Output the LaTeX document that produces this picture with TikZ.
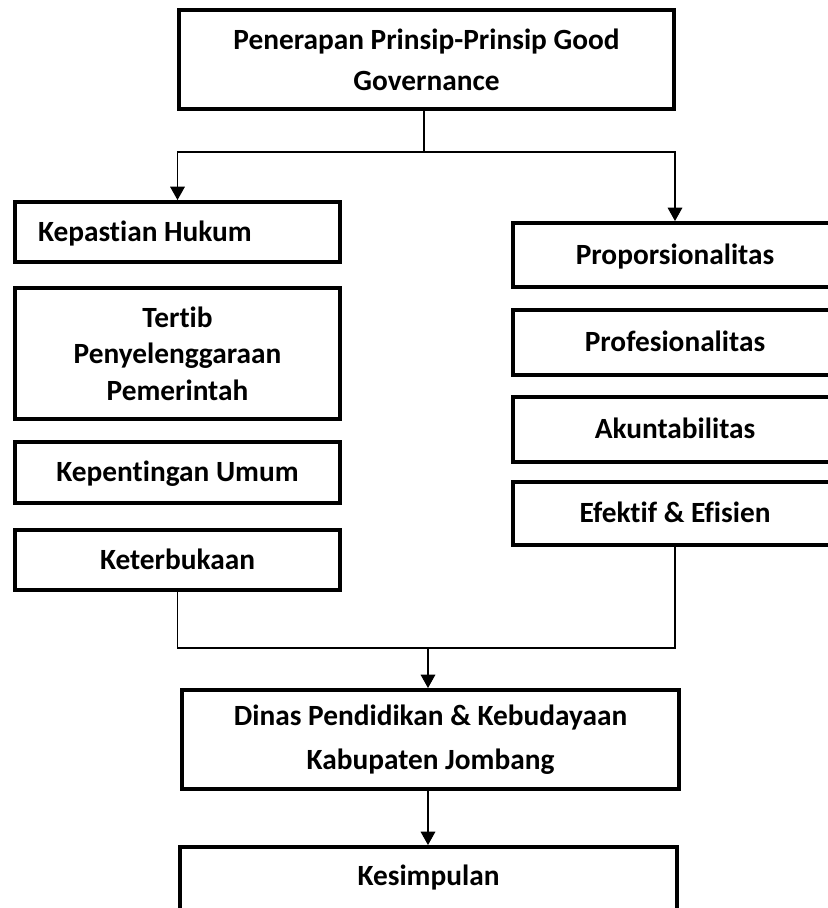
\documentclass[tikz,border=0pt]{standalone}
\usepackage{fontspec}
\setmainfont{Carlito}[Ligatures={NoCommon,NoRare,NoContextual}]
\usetikzlibrary{arrows.meta}
\begin{document}
\begin{tikzpicture}[x=0.75pt,y=-0.75pt,
  box/.style={draw, line width=3pt, rectangle, inner sep=0pt,
    font=\fontsize{22pt}{27.5pt}\selectfont\bfseries, align=center},
  one/.style={text height=13.8pt, text depth=0pt},
  conn/.style={line width=0.8pt},
  arr/.style={conn, -{Triangle[length=10pt,width=11pt]}}]
\useasboundingbox (0,0) rectangle (828,908);
\clip (0,0) rectangle (828,908);

\node[box, minimum width=371.25pt, minimum height=74.25pt,
  font=\fontsize{22pt}{30.75pt}\selectfont\bfseries] (top) at (426.5,59.5)
  {Penerapan Prinsip-Prinsip Good\\Governance};

\node[box, one, minimum width=243.75pt, minimum height=45pt, inner xsep=17.25pt,
  text width=209.25pt, align=flush left] (kep) at (177.5,232) {Kepastian Hukum};
\node[box, minimum width=243.75pt, minimum height=98.25pt] (tertib) at (177.5,353.5)
  {Tertib\\Penyelenggaraan\\Pemerintah};
\node[box, one, minimum width=243.75pt, minimum height=45.75pt] (kepum) at (177.5,472.5) {Kepentingan Umum};
\node[box, one, minimum width=243.75pt, minimum height=45pt] (ket) at (177.5,560) {Keterbukaan};

\node[box, one, minimum width=243pt, minimum height=48pt] (prop) at (675,255) {Proporsionalitas};
\node[box, one, minimum width=243pt, minimum height=48.75pt] (prof) at (675,342.5) {Profesionalitas};
\node[box, one, minimum width=243pt, minimum height=48.75pt] (akun) at (675,429.5) {Akuntabilitas};
\node[box, one, minimum width=243pt, minimum height=47.25pt] (efk) at (675,513.5) {Efektif \& Efisien};

\node[box, minimum width=372.75pt, minimum height=74.25pt,
  font=\fontsize{22pt}{33pt}\selectfont\bfseries] (dinas) at (430.5,739.5)
  {Dinas Pendidikan \& Kebudayaan\\Kabupaten Jombang};
\node[box, text height=13.8pt, text depth=7.8pt, minimum width=372.75pt, minimum height=51pt]
  (kes) at (428.5,881) {Kesimpulan};

\coordinate (split) at (424,152);
\draw[conn] (top.south -| split) -- (split);
\draw[arr] (split) -| (kep.north);
\draw[arr] (split) -| (prop.north);

\coordinate (merge) at (428,648);
\draw[conn] (ket.south) -- (ket.south |- merge) -- (efk.south |- merge) -- (efk.south);
\draw[arr] (merge) -- (merge |- dinas.north);
\draw[arr] (dinas.south -| merge) -- (kes.north -| merge);
\end{tikzpicture}
\end{document}
